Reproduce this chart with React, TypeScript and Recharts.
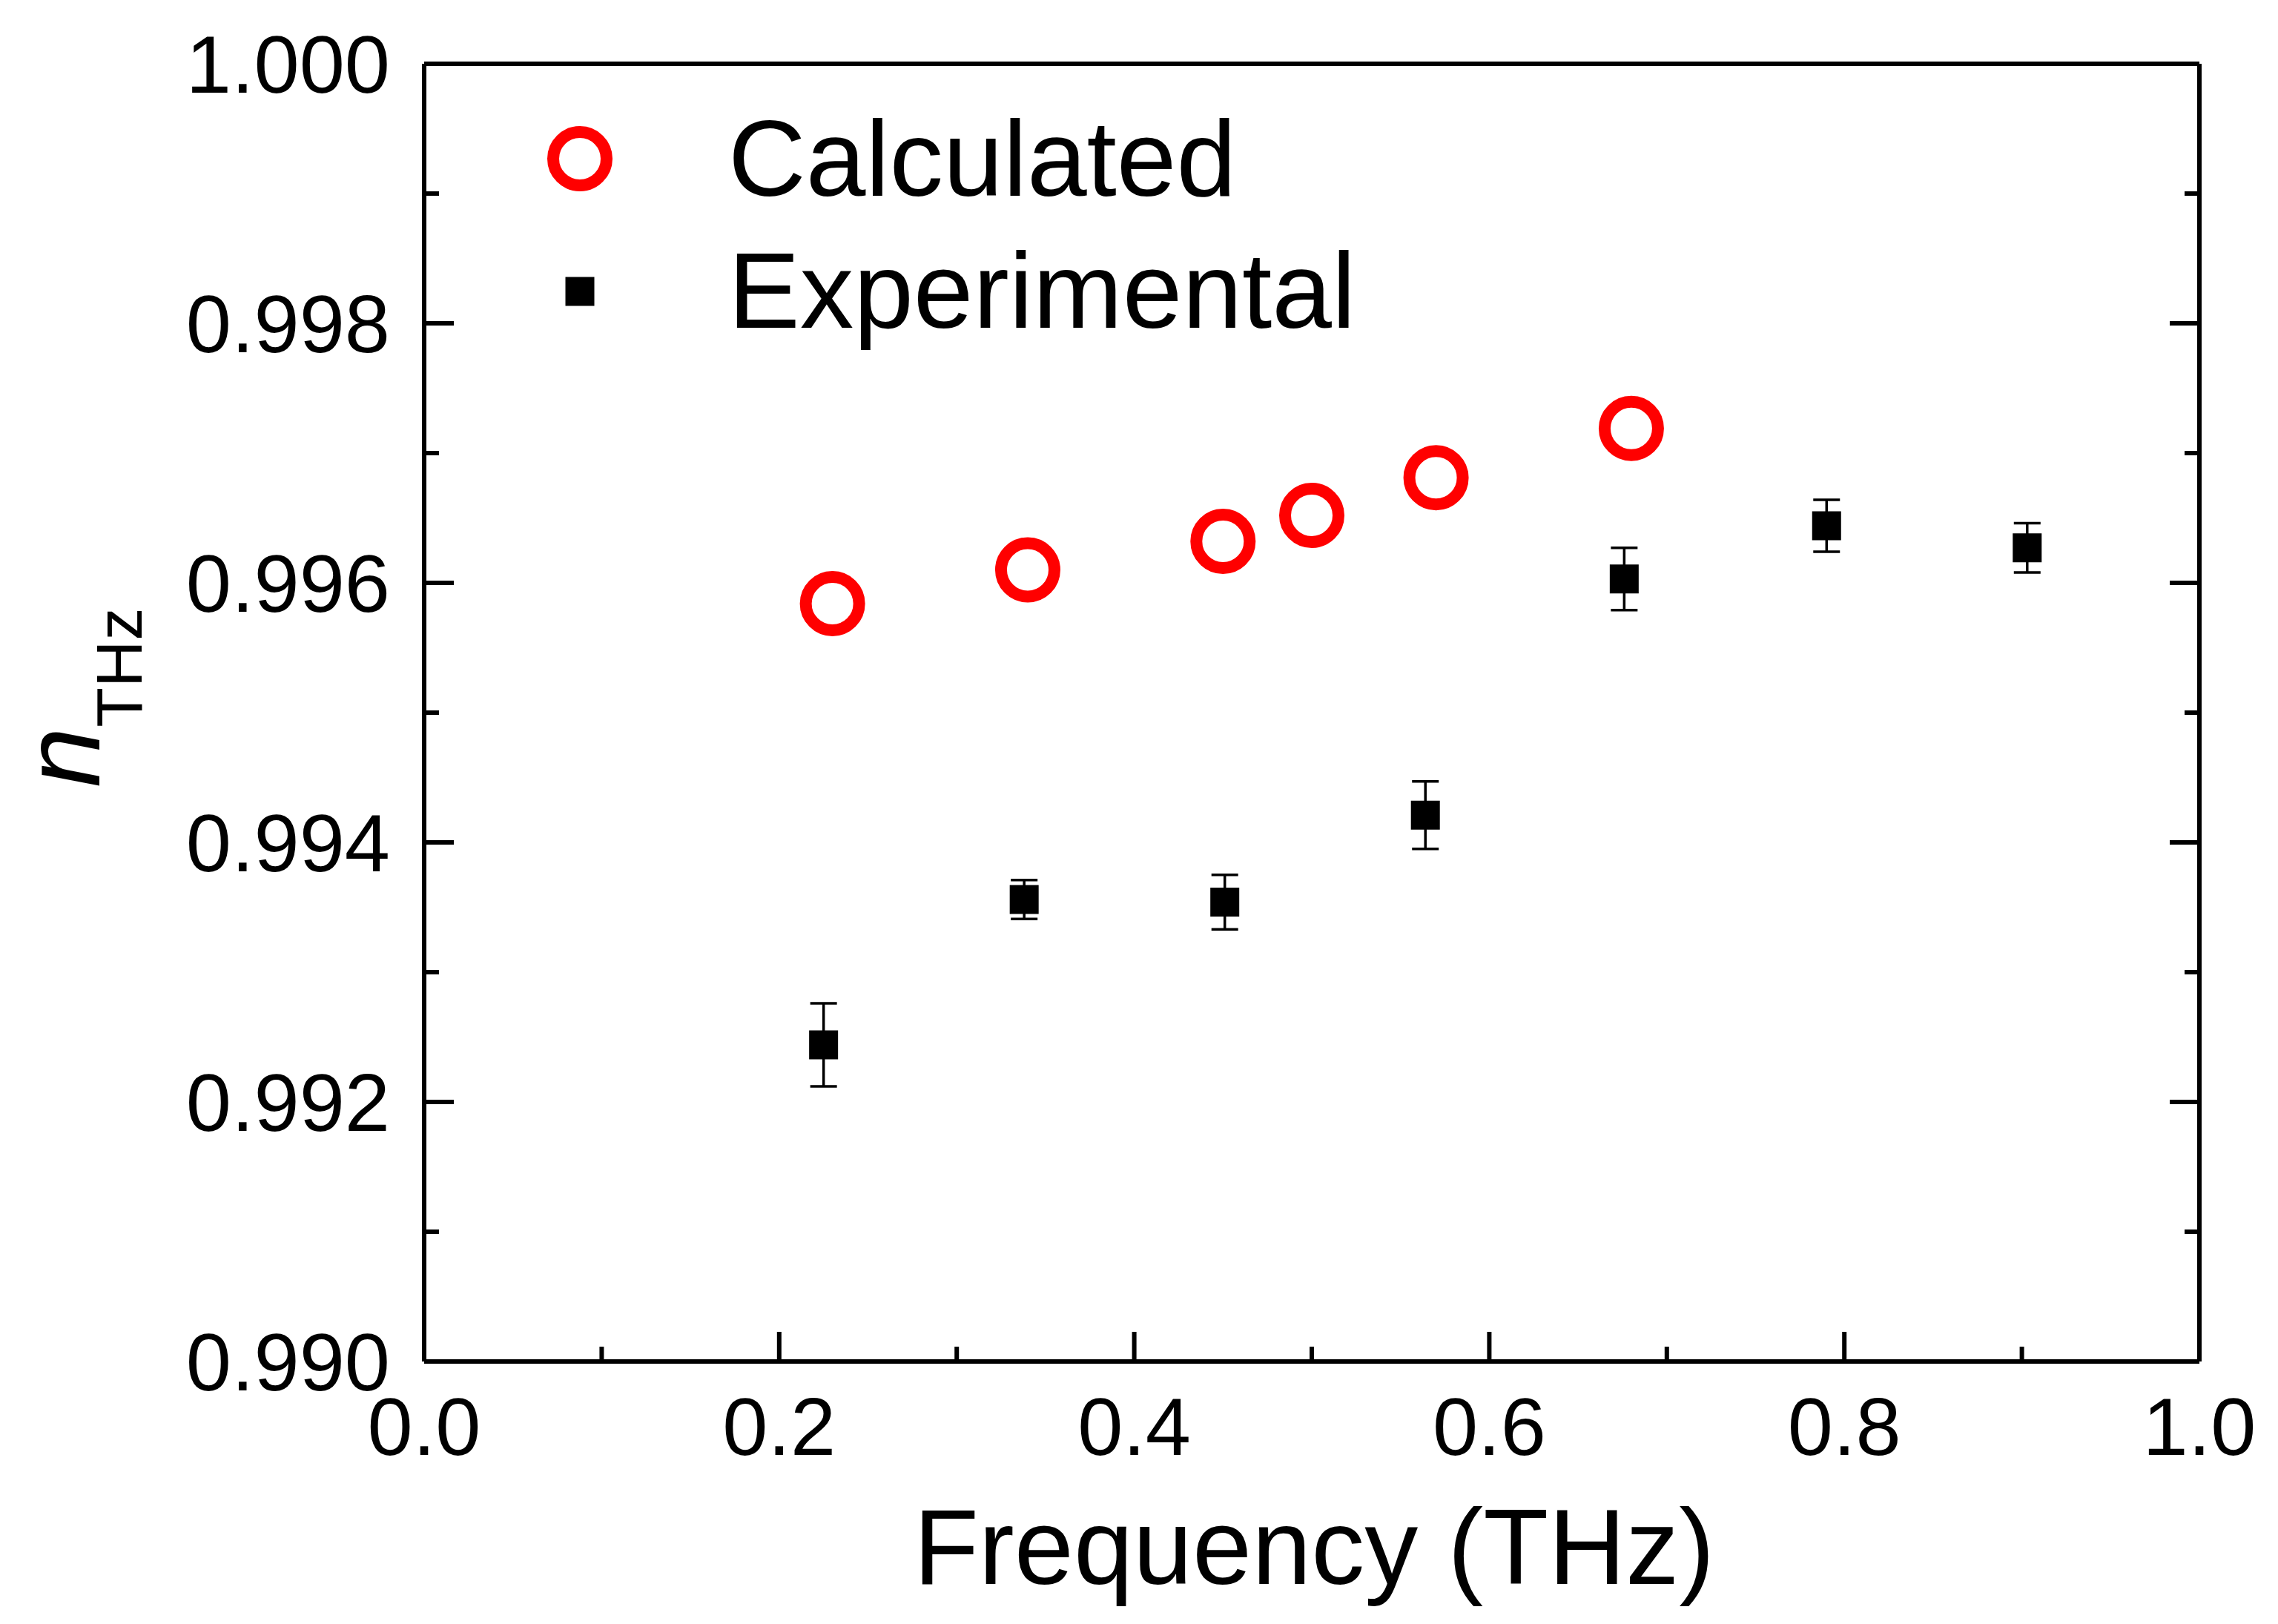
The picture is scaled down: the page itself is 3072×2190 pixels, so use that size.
import React from 'react';
import { ScatterChart, Scatter, XAxis, YAxis, ErrorBar, Label, Legend } from 'recharts';

// ---- data ----
const calcFreq = [0.23, 0.34, 0.45, 0.5, 0.57, 0.68];
const calcN = [0.99584, 0.9961, 0.99632, 0.99652, 0.99681, 0.99719];

const expFreq = [0.225, 0.338, 0.451, 0.564, 0.676, 0.79, 0.903];
const expN = [0.99244, 0.99356, 0.99354, 0.99421, 0.99603, 0.99644, 0.99627];
const expErr = [0.00032, 0.00015, 0.00021, 0.00026, 0.00024, 0.0002, 0.00019];

const xMajorTicks = [0, 0.2, 0.4, 0.6, 0.8, 1.0];
const xMinorTicks = [0.1, 0.3, 0.5, 0.7, 0.9];
const yMajorTicks = [0.99, 0.992, 0.994, 0.996, 0.998, 1.0];
const yMinorTicks = [0.991, 0.993, 0.995, 0.997, 0.999];

const seriesNames = ['Calculated', 'Experimental'];
const xTitle = 'Frequency (THz)';
const yTitleMain = 'n';
const yTitleSub = 'THz';

const calcData = calcFreq.map((x, i) => ({ x, y: calcN[i] }));
const expData = expFreq.map((x, i) => ({ x, y: expN[i], err: expErr[i] }));
const xTicks = [...xMajorTicks, ...xMinorTicks].sort((a, b) => a - b);
const yTicks = [...yMajorTicks, ...yMinorTicks].sort((a, b) => a - b);

// ---- styles ----
const FONT = '"Liberation Sans", Arial, Helvetica, sans-serif';
const W = 3072;
const H = 2190;
const MAJOR = 40;
const MINOR = 20;
const TICK_W = 6;
const RED = '#FF0000';

const isIn = (v: number, list: number[]) => list.some((t) => Math.abs(t - v) < 1e-9);

const BottomTick = (props: any) => {
  const { x, y, payload } = props;
  const major = isIn(payload.value, xMajorTicks);
  return (
    <g>
      <line x1={x} x2={x} y1={y} y2={y - (major ? MAJOR : MINOR)} stroke="#000" strokeWidth={TICK_W} />
      {major && (
        <text x={x} y={y + 126} textAnchor="middle" fontFamily={FONT} fontSize={110} fill="#000">
          {Number(payload.value).toFixed(1)}
        </text>
      )}
    </g>
  );
};

const TopTick = (props: any) => {
  const { x, y, payload } = props;
  const major = isIn(payload.value, xMajorTicks);
  return <line x1={x} x2={x} y1={y} y2={y + (major ? MAJOR : MINOR)} stroke="#000" strokeWidth={TICK_W} />;
};

const LeftTick = (props: any) => {
  const { x, y, payload } = props;
  const major = isIn(payload.value, yMajorTicks);
  return (
    <g>
      <line x1={x} x2={x + (major ? MAJOR : MINOR)} y1={y} y2={y} stroke="#000" strokeWidth={TICK_W} />
      {major && (
        <text x={x - 46} y={y + 39} textAnchor="end" fontFamily={FONT} fontSize={110} fill="#000">
          {Number(payload.value).toFixed(3)}
        </text>
      )}
    </g>
  );
};

const RightTick = (props: any) => {
  const { x, y, payload } = props;
  const major = isIn(payload.value, yMajorTicks);
  return <line x1={x} x2={x - (major ? MAJOR : MINOR)} y1={y} y2={y} stroke="#000" strokeWidth={TICK_W} />;
};

const XTitle = (props: any) => {
  const vb = props.viewBox || {};
  return (
    <text x={vb.x + vb.width / 2 + 3} y={vb.y + 300} textAnchor="middle" fontFamily={FONT} fontSize={144} fill="#000">
      {xTitle}
    </text>
  );
};

const YTitle = (props: any) => {
  const vb = props.viewBox || {};
  const tx = vb.x + 134;
  const ty = vb.y + 976;
  return (
    <text transform={`translate(${tx}, ${ty}) rotate(-90)`} fontFamily={FONT} fill="#000">
      <tspan fontStyle="italic" fontSize={146}>{yTitleMain}</tspan>
      <tspan fontSize={88} dy={57}>{yTitleSub}</tspan>
    </text>
  );
};

const CircleShape = (props: any) => {
  const { cx, cy } = props;
  return <circle cx={cx} cy={cy} r={36} fill="none" stroke={RED} strokeWidth={16} />;
};

const SquareShape = (props: any) => {
  const { cx, cy } = props;
  return <rect x={cx - 19.5} y={cy - 19.5} width={39} height={39} fill="#000" />;
};

const LegendContent = () => (
  <svg width={1300} height={360} style={{ overflow: 'visible' }}>
    <circle cx={102} cy={94} r={36} fill="none" stroke={RED} strokeWidth={16} />
    <text x={302} y={144} fontFamily={FONT} fontSize={145} fill="#000">
      {seriesNames[0]}
    </text>
    <rect x={102 - 19.5} y={273 - 19.5} width={39} height={39} fill="#000" />
    <text x={302} y={322} fontFamily={FONT} fontSize={145} fill="#000">
      {seriesNames[1]}
    </text>
  </svg>
);

export default function App() {
  return (
    <div style={{ position: 'absolute', left: 0, top: 0, width: W, height: H, background: '#fff' }}>
      <ScatterChart width={W} height={H} margin={{ top: 0, right: 0, bottom: 0, left: 0 }}>
        <XAxis
          xAxisId={0}
          dataKey="x"
          type="number"
          domain={[0, 1]}
          ticks={xTicks}
          interval={0}
          allowDataOverflow
          height={354}
          tickSize={0}
          tickMargin={0}
          tickLine={false}
          axisLine={{ stroke: '#000', strokeWidth: 6 }}
          tick={<BottomTick />}
        >
          <Label content={<XTitle />} />
        </XAxis>
        <XAxis
          xAxisId="top"
          orientation="top"
          type="number"
          domain={[0, 1]}
          ticks={xTicks}
          interval={0}
          allowDataOverflow
          height={86}
          tickSize={0}
          tickMargin={0}
          tickLine={false}
          axisLine={{ stroke: '#000', strokeWidth: 6 }}
          tick={<TopTick />}
        />
        <YAxis
          yAxisId={0}
          dataKey="y"
          type="number"
          domain={[0.99, 1.0]}
          ticks={yTicks}
          interval={0}
          allowDataOverflow
          width={572}
          tickSize={0}
          tickMargin={0}
          tickLine={false}
          axisLine={{ stroke: '#000', strokeWidth: 6 }}
          tick={<LeftTick />}
        >
          <Label content={<YTitle />} />
        </YAxis>
        <YAxis
          yAxisId="right"
          orientation="right"
          type="number"
          domain={[0.99, 1.0]}
          ticks={yTicks}
          interval={0}
          allowDataOverflow
          width={106}
          tickSize={0}
          tickMargin={0}
          tickLine={false}
          axisLine={{ stroke: '#000', strokeWidth: 6 }}
          tick={<RightTick />}
        />
        <Legend
          layout="vertical"
          align="center"
          verticalAlign="middle"
          wrapperStyle={{ position: 'absolute', left: 680, top: 120, width: 1300, height: 360 }}
          content={<LegendContent />}
        />
        <Scatter
          name={seriesNames[0]}
          data={calcData}
          xAxisId={0}
          yAxisId={0}
          shape={<CircleShape />}
          isAnimationActive={false}
        />
        <Scatter
          name={seriesNames[1]}
          data={expData}
          xAxisId={0}
          yAxisId={0}
          shape={<SquareShape />}
          isAnimationActive={false}
        >
          <ErrorBar dataKey="err" direction="y" width={18} stroke="#000" strokeWidth={3.5} />
        </Scatter>
      </ScatterChart>
    </div>
  );
}
